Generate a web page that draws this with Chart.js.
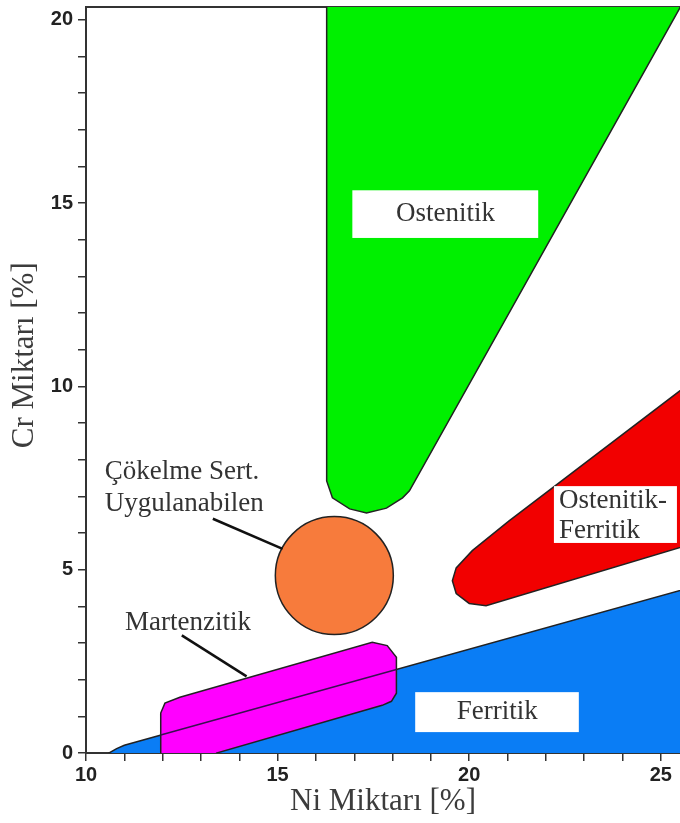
<!DOCTYPE html>
<html>
<head>
<meta charset="utf-8">
<script src="https://cdn.jsdelivr.net/npm/chart.js@4.4.0/dist/chart.umd.min.js"></script>
<style>
  html, body { margin: 0; padding: 0; background: #fff; }
  #wrap { width: 680px; height: 823px; }
</style>
</head>
<body>
<div id="wrap"><canvas id="myChart"></canvas></div>
<script>
// region outlines (x = Ni %, y = Cr %)
const ostenitikNi = [16.28, 16.28, 16.43, 16.88, 17.32, 17.84, 18.26, 18.44, 25.59, 16.28];
const ostenitikCr = [20.5, 7.42, 6.96, 6.66, 6.55, 6.68, 6.96, 7.15, 20.5, 20.5];

const ostFerNi = [25.7, 21.04, 20.08, 19.66, 19.56, 19.66, 20.0, 20.44, 25.7, 25.7];
const ostFerCr = [10.04, 6.33, 5.52, 5.05, 4.70, 4.35, 4.08, 4.02, 5.67, 10.04];

const ferritikNi = [10.55, 10.6, 10.8, 11.0, 25.7, 25.7, 10.55];
const ferritikCr = [-0.2, 0, 0.12, 0.21, 4.49, -0.2, -0.2];

const martenNi = [11.95, 11.95, 12.06, 12.45, 17.47, 17.86, 18.10, 18.10, 17.97, 17.73, 13.41, 13.41, 11.95];
const martenCr = [-0.2, 1.09, 1.36, 1.52, 3.02, 2.93, 2.61, 1.63, 1.41, 1.30, 0, -0.2, -0.2];

// ferritik boundary continuing across the martenzitik band
const boundaryNi = [11.95, 18.10];
const boundaryCr = [0.49, 2.28];

// cokelme sertlesmesi region (circle centre)
const cokelmeNi = [16.48];
const cokelmeCr = [4.84];

// leader lines from the labels
const leader1Ni = [13.31, 15.13];
const leader1Cr = [6.39, 5.57];
const leader2Ni = [12.5, 14.19];
const leader2Cr = [3.21, 2.09];

// tick marks (every 1 %) and labelled ones
const niTicks = [10, 11, 12, 13, 14, 15, 16, 17, 18, 19, 20, 21, 22, 23, 24, 25];
const crTicks = [0, 1, 2, 3, 4, 5, 6, 7, 8, 9, 10, 11, 12, 13, 14, 15, 16, 17, 18, 19, 20];
const majorTicks = [0, 5, 10, 15, 20, 25];

function pts(xs, ys) {
  return xs.map((x, i) => ({ x: x, y: ys[i] }));
}

const OUTLINE = '#222';

function region(data, color, order) {
  return {
    data: data,
    showLine: true,
    fill: 'shape',
    backgroundColor: color,
    borderColor: OUTLINE,
    borderWidth: 1.5,
    pointRadius: 0,
    tension: 0,
    clip: 0,
    order: order
  };
}

function segment(data, color, width, order) {
  return {
    data: data,
    showLine: true,
    fill: false,
    borderColor: color,
    borderWidth: width,
    pointRadius: 0,
    clip: 0,
    order: order
  };
}

// text boxes, in data units
const boxes = [
  { x1: 16.95, x2: 21.80, y1: 15.35, y2: 14.05 },
  { x1: 18.59, x2: 22.86, y1: 1.66, y2: 0.57 },
  { x1: 22.21, x2: 25.42, y1: 7.28, y2: 5.73 }
];
const texts = [
  { t: 'Ostenitik', x: 19.38, y: 14.70, align: 'center' },
  { t: 'Ferritik', x: 20.73, y: 1.11, align: 'center' },
  { t: 'Ostenitik-', x: 22.34, y: 6.88, align: 'left' },
  { t: 'Ferritik', x: 22.34, y: 6.06, align: 'left' },
  { t: 'Çökelme Sert.', x: 10.49, y: 7.66, align: 'left' },
  { t: 'Uygulanabilen', x: 10.49, y: 6.79, align: 'left' },
  { t: 'Martenzitik', x: 12.66, y: 3.56, align: 'center' }
];

const labelPlugin = {
  id: 'labelPlugin',
  afterDatasetsDraw(chart) {
    const ctx = chart.ctx;
    const xs = chart.scales.x, ys = chart.scales.y;
    ctx.save();
    ctx.fillStyle = '#fff';
    boxes.forEach(b => {
      const l = xs.getPixelForValue(b.x1), r = xs.getPixelForValue(b.x2);
      const t = ys.getPixelForValue(b.y1), bt = ys.getPixelForValue(b.y2);
      ctx.fillRect(l, t, r - l, bt - t);
    });
    ctx.fillStyle = '#333';
    ctx.font = '27px "Liberation Serif"';
    ctx.textBaseline = 'middle';
    texts.forEach(s => {
      ctx.textAlign = s.align;
      ctx.fillText(s.t, xs.getPixelForValue(s.x), ys.getPixelForValue(s.y));
    });
    ctx.restore();
  },
  afterDraw(chart) {
    // y axis title, placed a bit above the axis centre like the original
    const ctx = chart.ctx;
    ctx.save();
    ctx.translate(25, chart.scales.y.getPixelForValue(10.85));
    ctx.rotate(-Math.PI / 2);
    ctx.font = '31px "Liberation Serif"';
    ctx.fillStyle = '#3c3c3c';
    ctx.textAlign = 'center';
    ctx.textBaseline = 'middle';
    ctx.fillText('Cr Miktarı [%]', 0, 0);
    ctx.restore();
  }
};

const tickFont = { family: '"Liberation Sans"', size: 20, weight: 'bold' };

const config = {
  type: 'scatter',
  data: {
    datasets: [
      region(pts(ferritikNi, ferritikCr), '#0a7df5', 7),
      region(pts(martenNi, martenCr), '#ff00ff', 6),
      segment(pts(boundaryNi, boundaryCr), '#3a1050', 1.5, 5),
      region(pts(ostenitikNi, ostenitikCr), '#00f000', 4),
      region(pts(ostFerNi, ostFerCr), '#f20000', 3),
      {
        data: pts(cokelmeNi, cokelmeCr),
        pointRadius: 59,
        pointBackgroundColor: '#f77b3c',
        pointBorderColor: OUTLINE,
        pointBorderWidth: 1.5,
        clip: false,
        order: 2
      },
      segment(pts(leader1Ni, leader1Cr), '#111', 2.5, 1),
      segment(pts(leader2Ni, leader2Cr), '#111', 2.5, 1)
    ]
  },
  options: {
    responsive: true,
    maintainAspectRatio: false,
    animation: false,
    events: [],
    layout: { padding: 0, autoPadding: false },
    plugins: {
      legend: { display: false },
      tooltip: { enabled: false }
    },
    scales: {
      x: {
        type: 'linear',
        position: 'bottom',
        min: 10,
        max: 25.5,
        afterBuildTicks: s => { s.ticks = niTicks.map(v => ({ value: v })); },
        afterFit: s => { s.height = 70; s.paddingLeft = 0; s.paddingRight = 0; },
        ticks: {
          padding: 2,
          color: '#222',
          font: tickFont,
          maxRotation: 0,
          autoSkip: false,
          callback: v => majorTicks.includes(v) ? v : ''
        },
        grid: { drawOnChartArea: false, drawTicks: true, tickLength: 8, color: '#333', lineWidth: 1.5 },
        border: { display: true, color: '#333', width: 2 },
        title: {
          display: true,
          text: 'Ni Miktarı [%]',
          color: '#3c3c3c',
          font: { family: '"Liberation Serif"', size: 31 },
          padding: { top: 0, bottom: 3 }
        }
      },
      x2: {
        type: 'linear',
        position: 'top',
        min: 10,
        max: 25.5,
        afterFit: s => { s.height = 7; s.paddingLeft = 0; s.paddingRight = 0; },
        ticks: { display: false },
        grid: { display: false },
        border: { display: true, color: '#333', width: 2 }
      },
      y: {
        type: 'linear',
        min: 0,
        max: 20.35,
        afterBuildTicks: s => { s.ticks = crTicks.map(v => ({ value: v })); },
        afterFit: s => { s.width = 86; s.paddingTop = 0; s.paddingBottom = 0; },
        ticks: {
          padding: 5,
          color: '#222',
          font: tickFont,
          autoSkip: false,
          callback: v => majorTicks.includes(v) ? v : ''
        },
        grid: { drawOnChartArea: false, drawTicks: true, tickLength: 8, color: '#333', lineWidth: 1.5 },
        border: { display: true, color: '#333', width: 2 }
      }
    }
  },
  plugins: [labelPlugin]
};

const myChart = new Chart(document.getElementById('myChart'), config);
</script>
</body>
</html>
